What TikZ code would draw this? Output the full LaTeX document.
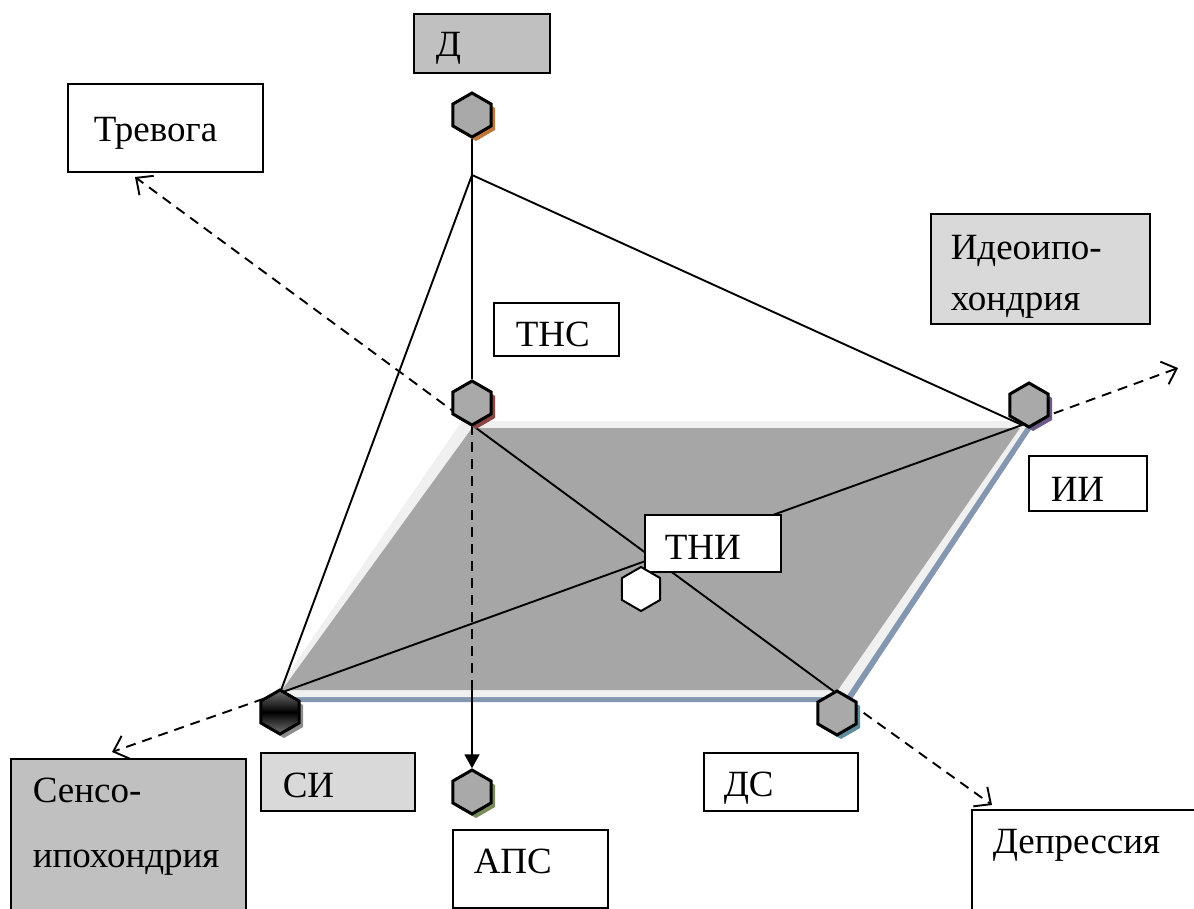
\documentclass[tikz,border=0pt]{standalone}
\usepackage{fontspec}
\setmainfont{Liberation Serif}
\usetikzlibrary{shapes.geometric,shadows,arrows.meta}

\definecolor{planegray}{HTML}{A6A6A6}
\definecolor{planelight}{HTML}{F0F0F0}
\definecolor{planeedge}{HTML}{8497B0}
\definecolor{boxdark}{HTML}{C0C0C0}
\definecolor{boxlight}{HTML}{D9D9D9}
\definecolor{hexgray}{HTML}{A9A9A9}
\definecolor{shD}{HTML}{C0783A}
\definecolor{shTNS}{HTML}{8B4545}
\definecolor{shII}{HTML}{6B5B84}
\definecolor{shSI}{HTML}{8C8C8C}
\definecolor{shDS}{HTML}{5F8C9C}
\definecolor{shAPS}{HTML}{7A8C5A}

\begin{document}
\begin{tikzpicture}[x=1pt, y=-1pt,
        block/.style n args={4}{draw, line width=1.5pt, anchor=north west, align=left, inner ysep=0pt, inner xsep=#1, text width=#2, text height=#3, text depth=#4, font=\fontsize{37}{42}\selectfont},
        hexa/.style={regular polygon, regular polygon sides=6, shape border rotate=30, minimum size=44pt, inner sep=0pt, draw, line width=3pt, fill=hexgray},
        shade/.style={drop shadow={shadow xshift=4pt, shadow yshift=-4pt, opacity=1, fill=#1}},
        line/.style={line width=1.9pt},
        dasharrow/.style={line width=1.9pt, dash pattern=on 10pt off 7pt, -{Straight Barb[length=13pt,width=24pt]}}
    ]
        \useasboundingbox (0,0) rectangle (1194,908);

        % corners of the plane
        \coordinate (p1) at (472,425);
        \coordinate (p2) at (1022,425);
        \coordinate (p3) at (836,693);
        \coordinate (p4) at (280,693);
        \coordinate (apex) at (472,175);
        \coordinate (mid) at (472,690);
        % ends of the outer axes
        \coordinate (toTrevoga) at (135,177);
        \coordinate (toIdeo) at (1178,368);
        \coordinate (toSenso) at (112,752);
        \coordinate (toDepr) at (992,805);

        % plane
        \fill[planeedge] (466,425) -- (1034,425) -- (850,702) -- (276,702) -- cycle;
        \fill[planelight] (462,421) -- (1030,421) -- (846,697) -- (272,697) -- cycle;
        \fill[planegray] (472,428) -- (1020,428) -- (838,690) -- (282,690) -- cycle;

        \draw[line] (apex) -- (p4);
        \draw[line] (apex) -- (p2);
        \draw[line] (p1) -- (p3);
        \draw[line] (p4) -- (p2);
        \draw[line, dash pattern=on 10pt off 7pt] (p1) -- (mid);
        \draw[dasharrow] (p1) -- (toTrevoga);
        \draw[dasharrow] (p2) -- (toIdeo);
        \draw[dasharrow] (p4) -- (toSenso);
        \draw[dasharrow] (p3) -- (toDepr);

        % labels
        \node[block={22pt}{92pt}{43pt}{16pt}, fill=boxdark] (dbox) at (413,13) {Д};
        \node[block={26pt}{143pt}{58pt}{30pt}, fill=white] (trevoga) at (67,83) {Тревога};
        \node[block={22pt}{81pt}{44pt}{9pt}, fill=white] (tnsbox) at (493,302) {ТНС};
        \node[block={20pt}{179pt}{46pt}{64pt}, fill=boxlight] (ideo) at (930,213) {Идеоипо-\\[9pt]хондрия};
        \node[block={22pt}{74pt}{46pt}{9pt}, fill=white] (iibox) at (1028,455) {ИИ};
        \node[block={20pt}{96pt}{45pt}{12pt}, fill=white] (tnibox) at (644,514) {ТНИ};
        \node[block={22pt}{110pt}{45pt}{13pt}, fill=boxlight] (sibox) at (260,752) {СИ};
        \node[block={22pt}{191pt}{44pt}{128pt}, fill=boxdark] (senso) at (10,758) {Сенсо-\\[23pt]ипохондрия};
        \node[block={21pt}{113pt}{44pt}{34pt}, fill=white] (apsbox) at (452,829) {АПС};
        \node[block={20pt}{114pt}{44pt}{14pt}, fill=white] (dsbox) at (703,752) {ДС};
        \node[block={21pt}{190pt}{44pt}{77pt}, fill=white] (depr) at (971,809) {Депрессия};

        % vertices
        \node[hexa, shade=shD] (d) at (472,115) {};
        \node[hexa, shade=shTNS] (tns) at (472,403) {};
        \node[hexa, shade=shII] (ii) at (1029,405) {};
        \node[hexa, shade=shSI, top color=black!55, bottom color=black!55, middle color=black] (si) at (280,712) {};
        \node[hexa, shade=shDS] (ds) at (837,713) {};
        \node[hexa, shade=shAPS] (aps) at (472,792) {};
        \node[hexa, fill=white, line width=2pt] (tni) at (641,589) {};

        \draw[line] (d) -- (tns);
        \draw[line, -{Triangle[length=14pt,width=15pt]}] (mid) -- (aps);
    \end{tikzpicture}
\end{document}
